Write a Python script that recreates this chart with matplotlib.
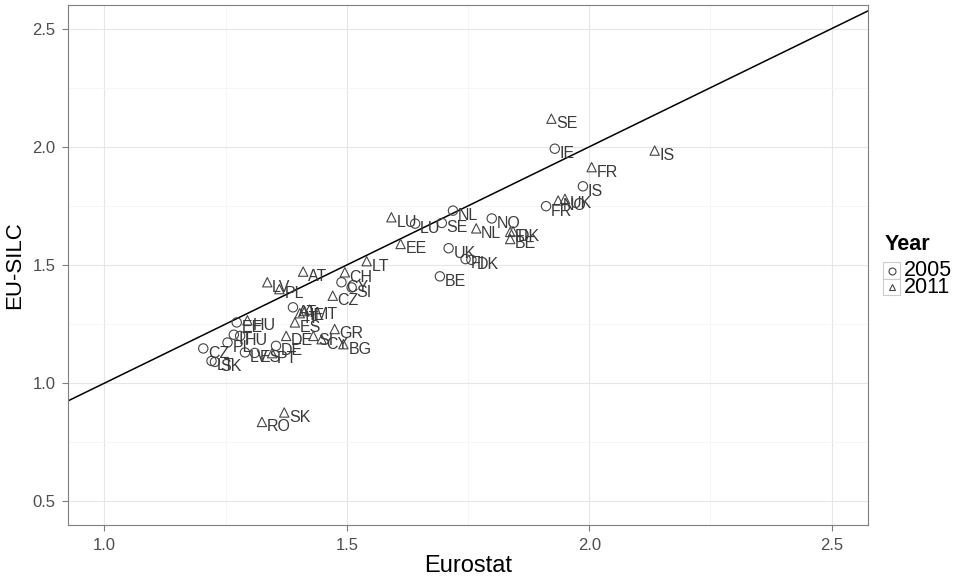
import matplotlib
matplotlib.use("Agg")
import matplotlib.pyplot as plt
from matplotlib.lines import Line2D
from matplotlib.patches import Rectangle
from matplotlib.ticker import MultipleLocator

plt.rcParams["font.family"] = ["Liberation Sans", "DejaVu Sans"]

# 2005 (circles)
c05 = ["IE", "IS", "FR", "NL", "LU", "SE", "NO", "UK", "FI", "DK", "BE",
       "CY", "SI", "AT", "CZ", "SK", "LT", "PL", "DE", "EE", "IT", "HU", "LV", "ES"]
x05 = [1.929, 1.987, 1.911, 1.719, 1.641, 1.696, 1.799, 1.710, 1.745, 1.757, 1.692,
       1.489, 1.510, 1.389, 1.204, 1.228, 1.221, 1.254, 1.354, 1.273, 1.267, 1.280, 1.290, 1.310]
y05 = [1.992, 1.833, 1.749, 1.730, 1.675, 1.678, 1.697, 1.571, 1.525, 1.522, 1.452,
       1.427, 1.405, 1.321, 1.147, 1.090, 1.094, 1.172, 1.158, 1.257, 1.205, 1.200, 1.130, 1.128]

# 2011 (triangles)
c11 = ["SE", "IS", "FR", "NO", "UK", "LU", "NL", "FI", "DK", "BE", "EE", "LT",
       "AT", "CH", "CZ", "LV", "PL", "ES", "DE", "GR", "BG", "CY", "RO", "SK",
       "MT", "IT", "IE", "HU", "PT", "SI"]
x11 = [1.922, 2.135, 2.005, 1.936, 1.950, 1.592, 1.767, 1.837, 1.843, 1.837, 1.611, 1.541,
       1.410, 1.496, 1.471, 1.336, 1.361, 1.393, 1.375, 1.475, 1.493, 1.448, 1.325, 1.371,
       1.423, 1.403, 1.413, 1.295, 1.346, 1.431]
y11 = [2.119, 1.984, 1.914, 1.773, 1.780, 1.702, 1.655, 1.640, 1.643, 1.610, 1.589, 1.516,
       1.472, 1.469, 1.370, 1.427, 1.398, 1.257, 1.200, 1.229, 1.165, 1.186, 0.836, 0.876,
       1.311, 1.296, 1.305, 1.266, 1.127, 1.200]

years = ["2005", "2011"]
markers = ["o", "^"]

W, H = 963, 578
fig = plt.figure(figsize=(W/100, H/100), dpi=100)
ax = fig.add_axes([68/W, 1-525/H, 800/W, 520/H])

ax.set_xlim(0.925, 2.575)
ax.set_ylim(0.4, 2.6)
ax.xaxis.set_major_locator(MultipleLocator(0.5))
ax.yaxis.set_major_locator(MultipleLocator(0.5))
ax.xaxis.set_minor_locator(MultipleLocator(0.25))
ax.yaxis.set_minor_locator(MultipleLocator(0.25))
ax.grid(which="major", color="#e6e6e6", linewidth=0.8)
ax.grid(which="minor", color="#f5f5f5", linewidth=0.6)
ax.set_axisbelow(True)
for s in ax.spines.values():
    s.set_color("#7f7f7f")
    s.set_linewidth(0.8)
ax.tick_params(which="major", length=4, width=0.8, color="#7f7f7f", labelsize=12,
               labelcolor="#4d4d4d", pad=5)
ax.tick_params(which="minor", length=0)

ax.plot([0.9, 2.6], [0.9, 2.6], color="black", linewidth=1.1, zorder=2)

mk = dict(s=45, facecolors="none", edgecolors="#444444", linewidths=0.8, zorder=3)
ax.scatter(x05, y05, marker=markers[0], **mk)
ax.scatter(x11, y11, marker=markers[1], **mk)

for names, xs, ys in [(c05, x05, y05), (c11, x11, y11)]:
    for n, xv, yv in zip(names, xs, ys):
        ax.annotate(n, (xv, yv), xytext=(3.5, -3.5), textcoords="offset points",
                    ha="left", va="center", fontsize=11.5, color="#3a3a3a", zorder=4)

ax.set_xlabel("Eurostat", fontsize=17, labelpad=2)
ax.set_ylabel("EU-SILC", fontsize=16, labelpad=5)

# legend (ggplot-style keys with light border boxes)
fig.text(885/W, 1-244/H, "Year", fontsize=15.5, fontweight="bold",
         ha="left", va="center", color="black")
for i, (lab, m) in enumerate(zip(years, markers)):
    top = 262 + i*16.7
    fig.add_artist(Rectangle((883/W, 1-(top+16.7)/H), 16.7/W, 16.7/H,
                             transform=fig.transFigure, facecolor="white",
                             edgecolor="#cccccc", linewidth=0.8))
    fig.add_artist(Line2D([891.5/W], [1-(top+8.5)/H], marker=m, linestyle="none",
                          markerfacecolor="none", markeredgecolor="#444444",
                          markersize=5, markeredgewidth=0.8, transform=fig.transFigure))
    fig.text(904/W, 1-(top+9)/H, lab, fontsize=15.5, ha="left", va="center",
             color="black")

fig.savefig("out.png", dpi=100)
